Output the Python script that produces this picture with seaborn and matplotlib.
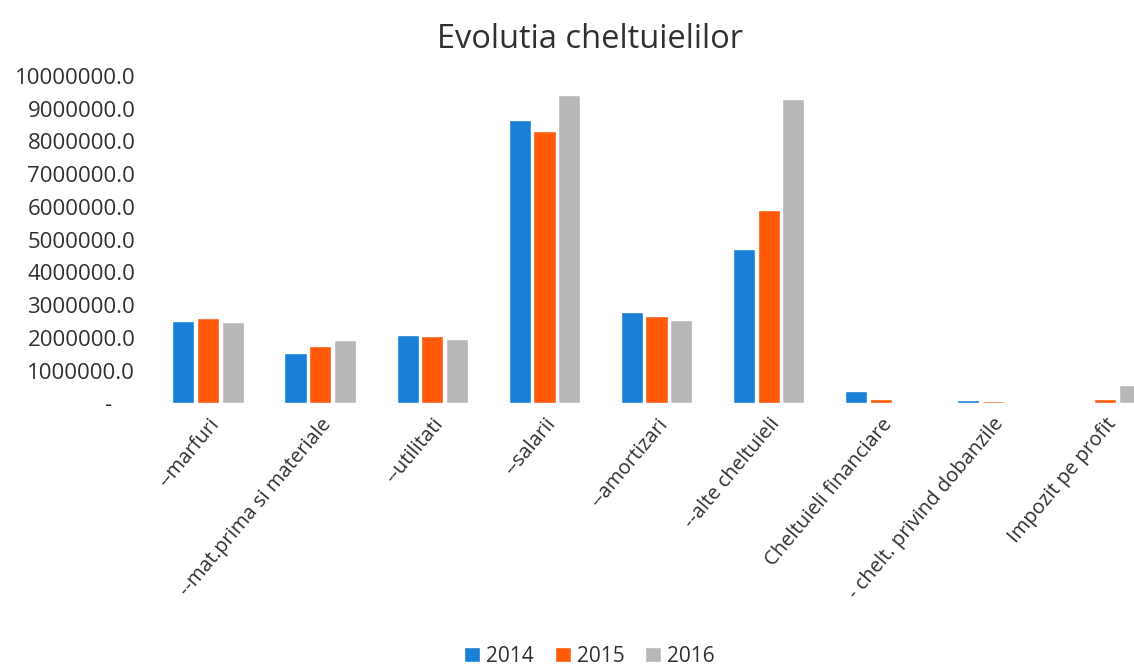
import matplotlib
matplotlib.use("Agg")
import matplotlib.pyplot as plt
import seaborn as sns
import pandas as pd
from matplotlib.ticker import FuncFormatter, MultipleLocator

categories = ["--marfuri", "--mat.prima si materiale", "--utilitati", "--salarii",
              "--amortizari", "--alte cheltuieli", "Cheltuieli financiare",
              "- chelt. privind dobanzile", "Impozit pe profit"]
years = ["2014", "2015", "2016"]
v2014 = [2500000, 1520000, 2100000, 8650000, 2800000, 4700000, 370000, 90000, 0]
v2015 = [2600000, 1740000, 2050000, 8300000, 2650000, 5900000, 140000, 80000, 140000]
v2016 = [2480000, 1930000, 1960000, 9400000, 2550000, 9300000, 50000, 0, 550000]
colors = ["#1A7FD6", "#FF5A0A", "#B8B8BA"]

rows = []
for y, vals in zip(years, [v2014, v2015, v2016]):
    for c, v in zip(categories, vals):
        rows.append({"cat": c, "year": y, "val": v})
df = pd.DataFrame(rows)

sns.set_theme(style="white")
plt.rcParams['font.family'] = ['Open Sans', 'DejaVu Sans']

fig = plt.figure(figsize=(11.34, 6.71), dpi=100)
ax = fig.add_axes([0.134, 0.399, 0.89, 0.488])
sns.barplot(data=df, x="cat", y="val", hue="year", order=categories, hue_order=years,
            palette=colors, width=0.66, gap=0.1, saturation=1, ax=ax, legend=True)

ax.set_ylim(0, 10000000)
ax.set_xlim(-0.5, 8.5)
ax.yaxis.set_major_locator(MultipleLocator(1000000))
ax.yaxis.set_major_formatter(FuncFormatter(lambda v, p: "-    " if abs(v) < 1 else f"{v:.1f}"))
ax.tick_params(axis='y', labelsize=16, colors="#303030", length=0, pad=12)
ax.tick_params(axis='x', labelsize=14.5, colors="#303030", length=0, pad=8)
for lab in ax.get_xticklabels():
    lab.set_rotation(50)
    lab.set_ha('right')
    lab.set_rotation_mode('anchor')
ax.set_xlabel("")
ax.set_ylabel("")
for s in ax.spines.values():
    s.set_visible(False)

fig.suptitle("Evolutia cheltuielilor", x=0.52, y=0.965, fontsize=23.5, color="#303030")

handles, labels = ax.get_legend_handles_labels()
ax.get_legend().remove()
fig.legend(handles, labels, loc="lower center", bbox_to_anchor=(0.52, -0.022), ncol=3,
           frameon=False, fontsize=15, handlelength=0.75, handleheight=0.75,
           handletextpad=0.3, columnspacing=1.0, labelcolor="#303030")

fig.savefig("out.png", dpi=100)
